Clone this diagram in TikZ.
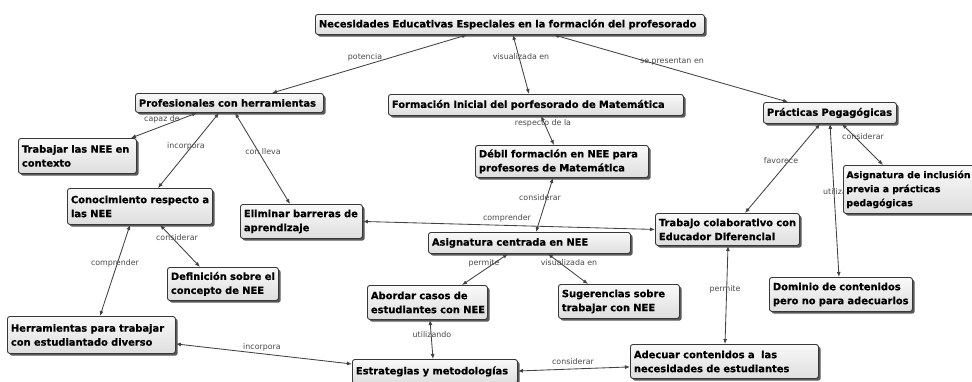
\documentclass[tikz,border=0pt]{standalone}
\usepackage{fontspec}
\setmainfont{DejaVu Sans}
\newfontfamily\boxfont[FakeBold=0.5]{DejaVu Sans Bold}
\usetikzlibrary{shadows,arrows.meta,calc}
\pgfdeclarelayer{background}
\pgfsetlayers{background,main}
\definecolor{edgecol}{HTML}{424242}
\definecolor{labcol}{HTML}{4A4A4A}
\definecolor{bordercol}{HTML}{383838}
\tikzset{
 cbox/.style={draw=bordercol, line width=0.9pt, rounded corners=2.5pt, top color=gray!5, bottom color=gray!26,
   drop shadow={shadow xshift=2.2pt, shadow yshift=-2.2pt, fill=black!72, opacity=0.9},
   anchor=north west, align=left, inner xsep=3.5pt, inner ysep=1pt,
   font=\boxfont\fontsize{9.9}{14}\selectfont, text=black},
 link/.style={draw=edgecol, line width=0.85pt, {Latex[length=5pt,width=4pt]}-{Latex[length=5pt,width=4pt]}},
 lab/.style={font=\fontsize{7.9}{9}\selectfont, text=labcol, inner sep=0pt},
}
\begin{document}
\begin{tikzpicture}[x=1pt,y=-1pt]
\useasboundingbox (0,0) rectangle (972,381);
% nodes
\node[cbox, text width=382pt, minimum height=20pt] (top) at (315,14) {\mbox{Necesidades Educativas Especiales en la formación del profesorado}};
\node[cbox, text width=181pt, minimum height=19pt] (prof) at (135,93) {\mbox{Profesionales con herramientas}};
\node[cbox, text width=288pt, minimum height=21pt] (form) at (388,94) {\mbox{Formación Inicial del porfesorado de Matemática}};
\node[cbox, text width=126pt, minimum height=21pt] (prac) at (763,102) {\mbox{Prácticas Pegagógicas}};
\node[cbox, text width=111pt, minimum height=35pt] (trab) at (18,138) {\mbox{Trabajar las NEE en}\\\mbox{contexto}};
\node[cbox, text width=166pt, minimum height=32pt] (debil) at (475,145) {\mbox{Débil formación en NEE para}\\\mbox{profesores de Matemática}};
\node[cbox, text width=150pt, minimum height=48pt, inner xsep=3pt, font=\boxfont\fontsize{9.35}{14}\selectfont] (asigi) at (843,165) {\mbox{Asignatura de inclusión}\\\mbox{previa a prácticas}\\\mbox{pedagógicas}};
\node[cbox, text width=138pt, minimum height=36pt] (cono) at (67,188) {\mbox{Conocimiento respecto a}\\\mbox{las NEE}};
\node[cbox, text width=115pt, minimum height=34pt] (elim) at (240,204) {\mbox{Eliminar barreras de}\\\mbox{aprendizaje}};
\node[cbox, text width=195pt, minimum height=21pt] (asigc) at (428,232) {\mbox{Asignatura centrada en NEE}};
\node[cbox, text width=137pt, minimum height=32pt] (trabc) at (655,213) {\mbox{Trabajo colaborativo con}\\\mbox{Educador Diferencial}};
\node[cbox, text width=104pt, minimum height=33pt] (defi) at (167,267) {\mbox{Definición sobre el}\\\mbox{concepto de NEE}};
\node[cbox, text width=113pt, minimum height=34pt] (abor) at (367,285) {\mbox{Abordar casos de}\\\mbox{estudiantes con NEE}};
\node[cbox, text width=114pt, minimum height=34pt] (suge) at (558,284) {\mbox{Sugerencias sobre}\\\mbox{trabajar con NEE}};
\node[cbox, text width=136pt, minimum height=34pt] (domi) at (769,277) {\mbox{Dominio de contenidos}\\\mbox{pero no para adecuarlos}};
\node[cbox, text width=161pt, minimum height=37pt] (herr) at (7,316) {\mbox{Herramientas para trabajar}\\\mbox{con estudiantado diverso}};
\node[cbox, text width=158pt, minimum height=24pt] (estr) at (352,359) {\mbox{Estrategias y metodologías}};
\node[cbox, text width=181pt, minimum height=34pt] (adec) at (630,344) {\mbox{Adecuar contenidos a~ las}\\\mbox{necesidades de estudiantes}};
% connectors
\begin{pgfonlayer}{background}
\fill[white] (0,0) rectangle (972,381);
\draw[link] ([xshift=152pt]top.south west) -- ([xshift=137pt]prof.north west);
\draw[link] ([xshift=198pt]top.south west) -- ([xshift=141pt]form.north west);
\draw[link] ([xshift=239pt]top.south west) -- ([xshift=25pt]prac.north west);
\draw[link] ([xshift=62pt]prof.south west) -- ([xshift=113pt]trab.north west);
\draw[link] ([xshift=84pt]prof.south west) -- ([xshift=91pt]cono.north west);
\draw[link] ([xshift=100pt]prof.south west) -- ([xshift=50pt]elim.north west);
\draw[link] ([xshift=153pt]form.south west) -- ([xshift=79pt]debil.north west);
\draw[link] ([xshift=78pt]debil.south west) -- ([xshift=108pt]asigc.north west);
\draw[link] (elim.east) -- (trabc.west);
\draw[link] ([xshift=57pt]prac.south west) -- ([xshift=90pt]trabc.north west);
\draw[link] ([xshift=67pt]prac.south west) -- ([xshift=70pt]domi.north west);
\draw[link] ([xshift=79pt]prac.south west) -- ([xshift=40pt]asigi.north west);
\draw[link] ([xshift=63pt]cono.south west) -- ([xshift=93pt]herr.north west);
\draw[link] ([xshift=93pt]cono.south west) -- ([xshift=33pt]defi.north west);
\draw[link] ([xshift=80pt]asigc.south west) -- ([xshift=95pt]abor.north west);
\draw[link] ([xshift=120pt]asigc.south west) -- ([xshift=30pt]suge.north west);
\draw[link] ([xshift=63pt]abor.south west) -- ([xshift=81pt]estr.north west);
\draw[link] ([xshift=73pt]trabc.south west) -- ([xshift=95pt]adec.north west);
\draw[link] ([yshift=10pt]herr.south east) -- ([yshift=-5pt]estr.north west);
\draw[link] ([yshift=12pt]adec.south west) -- ([yshift=-12pt]estr.north east);
% labels
\node[lab] (l1) at (365,57) {potencia};
\node[lab] (l2) at (521,57) {visualizada en};
\node[lab] (l3) at (672,62) {se presentan en};
\node[lab] (l4) at (162,119) {capaz de};
\node[lab] (l5) at (186,146) {incorpora};
\node[lab] (l6) at (263,152) {con lleva};
\node[lab] (l7) at (543,123) {respecto de la};
\node[lab] (l8) at (540,198) {considerar};
\node[lab] (l9) at (507,218) {comprender};
\node[lab] (l10) at (781,161) {favorece};
\node[lab, anchor=west] (l11) at (823,192) {utiliza};
\node[lab] (l12) at (863,137) {considerar};
\node[lab] (l13) at (115,263) {comprender};
\node[lab] (l14) at (177,238) {considerar};
\node[lab] (l15) at (484,263) {permite};
\node[lab] (l16) at (569,263) {visualizada en};
\node[lab] (l17) at (432,335) {utilizando};
\node[lab] (l18) at (725,289) {permite};
\node[lab] (l19) at (262,347) {incorpora};
\node[lab] (l20) at (573,362) {considerar};
\end{pgfonlayer}
\end{tikzpicture}
\end{document}
